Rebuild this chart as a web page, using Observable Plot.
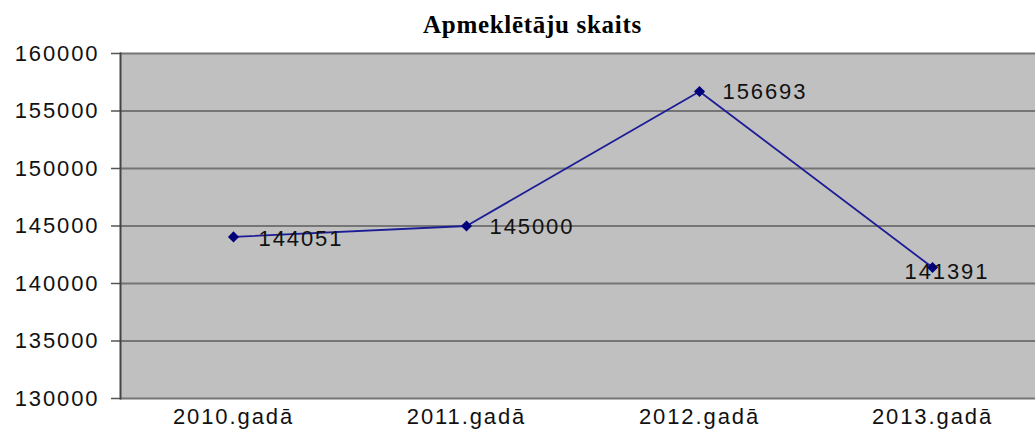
<!DOCTYPE html>
<html>
<head>
<meta charset="utf-8">
<script src="https://cdn.jsdelivr.net/npm/d3@7"></script>
<script src="https://cdn.jsdelivr.net/npm/@observablehq/plot@0.6"></script>
<style>
  html, body { margin: 0; padding: 0; background: #fff; overflow: hidden; }
  #title { height: 42px; box-sizing: border-box; padding-top: 11px; padding-left: 30px; width: 1035px;
    text-align: center; font: bold 25px "Liberation Serif", "Times New Roman", serif; line-height: 28px; letter-spacing: 0.7px; color: #000; }
  #chart svg text { letter-spacing: 1.9px; }
</style>
</head>
<body>
<div id="title">Apmeklētāju skaits</div>
<div id="chart"></div>
<script>
const years = ["2010.gadā", "2011.gadā", "2012.gadā", "2013.gadā"];
const visitors = [144051, 145000, 156693, 141391];
const yTicks = [130000, 135000, 140000, 145000, 150000, 155000, 160000];
const labelDx = [25, 23, 23, -28];
const labelDy = [2, 1, 0, 4];

const data = years.map((y, i) => ({year: y, value: visitors[i], dx: labelDx[i], dy: labelDy[i]}));

const chart = Plot.plot({
  width: 1035,
  height: 391,
  marginLeft: 120,
  marginRight: 0,
  marginTop: 11,
  marginBottom: 35,
  style: {fontFamily: "'Liberation Sans', Arial, sans-serif", fontSize: "22px", background: "transparent", overflow: "visible"},
  x: {type: "point", domain: years, range: [233, 932], padding: 0},
  y: {domain: [130000, 160000]},
  marks: [
    Plot.frame({fill: "#c0c0c0", stroke: null}),
    Plot.ruleY(yTicks, {stroke: "#757575", strokeWidth: 2}),
    Plot.axisY({ticks: yTicks, tickFormat: d3.format("d"), tickSize: 9, tickPadding: 12, stroke: "#555", strokeWidth: 1.5, fill: "#111", label: null}),
    Plot.axisX({tickSize: 0, tickPadding: 10, fill: "#111", label: null}),
    Plot.frame({anchor: "left", stroke: "#444", strokeWidth: 2}),
    Plot.line(data, {x: "year", y: "value", stroke: "#1c1c96", strokeWidth: 1.8}),
    Plot.dot(data, {x: "year", y: "value", symbol: "diamond2", r: 5, fill: "#00007a", stroke: null}),
    ...data.map(d => Plot.text([d], {x: "year", y: "value", text: v => String(v.value), textAnchor: "start", dx: d.dx, dy: d.dy, fill: "#111"}))
  ]
});
document.getElementById("chart").appendChild(chart);
</script>
</body>
</html>
